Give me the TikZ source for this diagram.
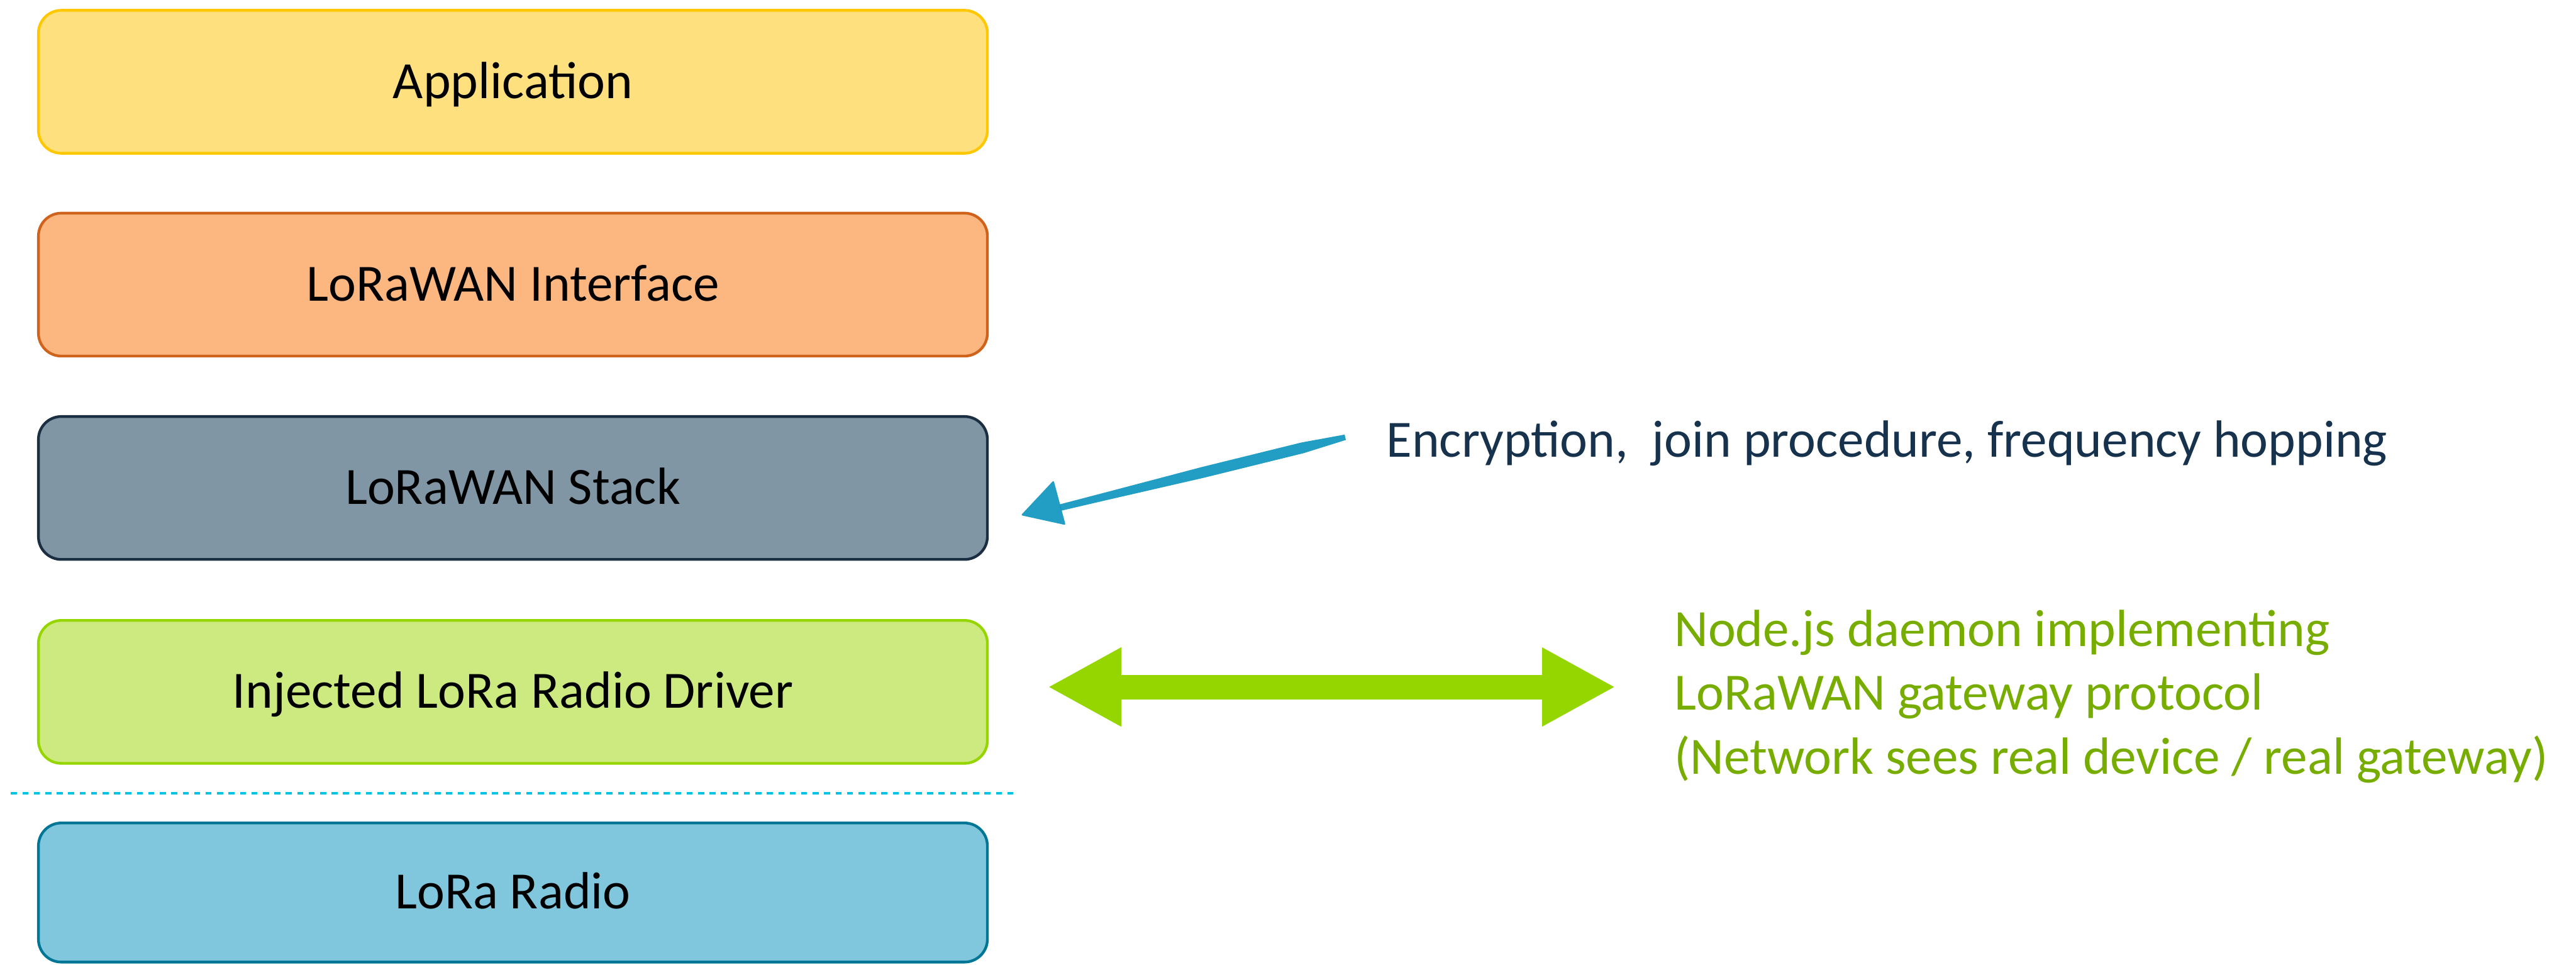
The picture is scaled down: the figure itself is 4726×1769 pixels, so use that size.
\documentclass[tikz,border=0pt]{standalone}
\usepackage{fontspec}
\setmainfont{Carlito}
\usetikzlibrary{arrows.meta}

\definecolor{appfill}{HTML}{FEE17E}
\definecolor{appline}{HTML}{FFC700}
\definecolor{ifacefill}{HTML}{FCB680}
\definecolor{ifaceline}{HTML}{D0631C}
\definecolor{stackfill}{HTML}{8096A5}
\definecolor{stackline}{HTML}{1C2F42}
\definecolor{drvfill}{HTML}{CDEA80}
\definecolor{drvline}{HTML}{96D600}
\definecolor{radiofill}{HTML}{80C7DD}
\definecolor{radioline}{HTML}{007696}
\definecolor{sepcol}{HTML}{00C4E0}
\definecolor{crayon}{HTML}{0A93BE}
\definecolor{notenavy}{HTML}{17324D}
\definecolor{notegreen}{HTML}{77AD00}
\definecolor{linkgreen}{HTML}{96D600}

\tikzset{
  layerbox/.style={rounded corners=0.42cm, line width=0.05cm,
    minimum width=17.40cm, minimum height=2.62cm, inner sep=0pt,
    text height=0.6cm, text depth=0pt, text=black,
    font=\fontsize{27.3}{33}\selectfont},
  notetext/.style={anchor=base west, inner sep=0pt,
    font=\fontsize{27.3}{33}\selectfont},
  sepline/.style={draw=sepcol, line width=0.05cm,
    dash pattern=on 0.11cm off 0.10cm},
  linkarrow/.style={draw=linkgreen, line width=0.45cm,
    {Triangle[length=1.35cm,width=1.35cm]}-{Triangle[length=1.35cm,width=1.35cm]}},
}

\begin{document}
\begin{tikzpicture}[x=0.01cm, y=-0.01cm]
\useasboundingbox (0,0) rectangle (4726,1769);

% protocol layers, top to bottom
\node[layerbox, fill=appfill,   draw=appline]   (app)    at (941,150)  {Application};
\node[layerbox, fill=ifacefill, draw=ifaceline] (iface)  at (941,522)  {LoRaWAN Interface};
\node[layerbox, fill=stackfill, draw=stackline] (stack)  at (941,895)  {LoRaWAN Stack};
\node[layerbox, fill=drvfill,   draw=drvline]   (driver) at (941,1269) {Injected LoRa Radio Driver};
\node[layerbox, fill=radiofill, draw=radioline, minimum height=2.55cm] (radio) at (941,1637) {LoRa Radio};

% boundary between software and hardware
\coordinate (sepL) at (20,1455);
\coordinate (sepR) at (1868,1455);
\draw[sepline] (sepL) -- (sepR);

% annotations
\node[notetext, text=notenavy] (enc) at (2543,838)
  {Encryption,\ \ join procedure, frequency hopping};
\node[notetext, text=notegreen] (gw1) at (3071,1185) {Node.js daemon implementing};
\node[notetext, text=notegreen] (gw2) at (3071,1302) {LoRaWAN gateway protocol};
\node[notetext, text=notegreen] (gw3) at (3071,1420) {(Network sees real device / real gateway)};

% hand-drawn pointer from the note to the stack
\coordinate (blueTail) at (2468,802);
\coordinate (blueTip) at (1873,945);
\fill[crayon, opacity=0.9]
  (blueTail) -- (2466.8,797.1) -- (2387.1,811.7) -- (2204.1,856.8) -- (2021.8,904.8) -- (1943.6,925.2)
  -- (1946.4,936.8) -- (2025.2,918.4) -- (2208.9,876.2) -- (2391.9,831.1) -- (2469.2,806.9) -- cycle;
\fill[crayon, opacity=0.9, rounded corners=0.03cm]
  (blueTip) -- (1933,881) -- (1955,963) -- cycle;

% double arrow between driver and gateway daemon
\coordinate (linkL) at (1922,1260);
\coordinate (linkR) at (2964,1260);
\draw[linkarrow] (linkL) -- (linkR);
\end{tikzpicture}
\end{document}
